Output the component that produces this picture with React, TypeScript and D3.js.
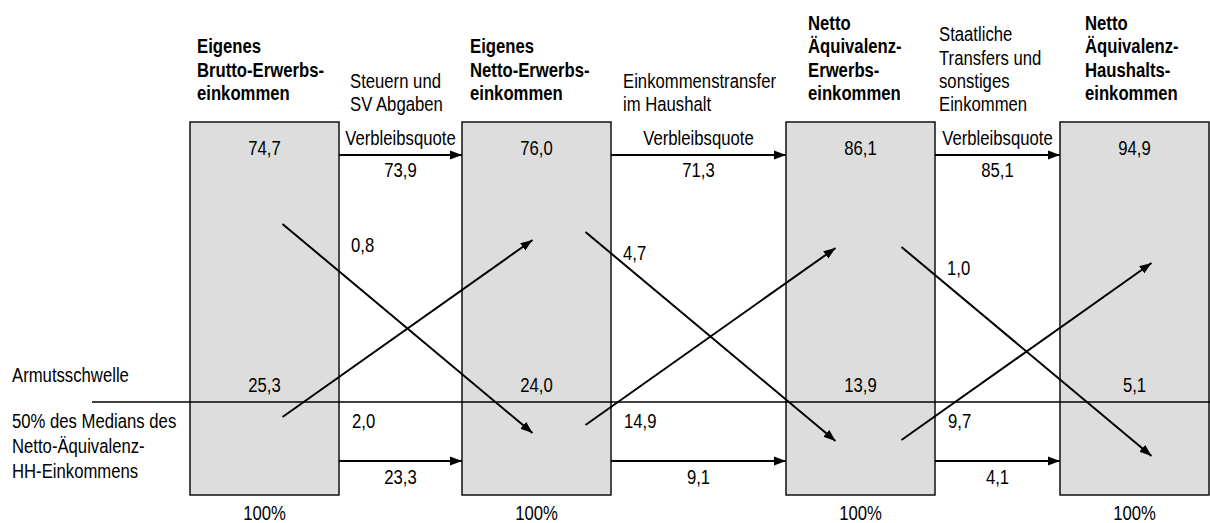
import React from 'react';
import * as d3 from 'd3';

// Stufen der Einkommensbetrachtung (Kopfzeilen der Kästen)
const stages = [
  ['Eigenes', 'Brutto-Erwerbs-', 'einkommen'],
  ['Eigenes', 'Netto-Erwerbs-', 'einkommen'],
  ['Netto', 'Äquivalenz-', 'Erwerbs-', 'einkommen'],
  ['Netto', 'Äquivalenz-', 'Haushalts-', 'einkommen'],
];
const transitions = [
  ['Steuern und', 'SV Abgaben'],
  ['Einkommenstransfer', 'im Haushalt'],
  ['Staatliche', 'Transfers und', 'sonstiges', 'Einkommen'],
];
const aboveShare = [74.7, 76.0, 86.1, 94.9];
const belowShare = [25.3, 24.0, 13.9, 5.1];
const stayAbove = [73.9, 71.3, 85.1];
const stayBelow = [23.3, 9.1, 4.1];
const fallBelow = [0.8, 4.7, 1.0];
const riseAbove = [2.0, 14.9, 9.7];
const totalLabel = '100%';
const stayLabel = 'Verbleibsquote';
const thresholdLabel = 'Armutsschwelle';
const thresholdNote = ['50% des Medians des', 'Netto-Äquivalenz-', 'HH-Einkommens'];

// Layout
const W = 1210;
const H = 523;
const BOX_W = 149;
const boxLeft = [190, 462, 786, 1060];
const headerX = [197, 470, 808, 1085];
const transX = [350, 623, 939];
const crossShift = [7, 12, 29];
const crossTop = [224, 232, 247];
const BOX_TOP = 122;
const BOX_BOTTOM = 495;
const THRESHOLD_Y = 402;
const TOP_ARROW_Y = 155;
const BOTTOM_ARROW_Y = 461;
const FONT = 'Arial, "Liberation Sans", Helvetica, sans-serif';
const FS = 16.7;
const STRETCH = 1.2;

const de = d3.formatLocale({ decimal: ',', thousands: '.', grouping: [3], currency: ['', ' €'] });
const fmt = de.format('.1f');

const xBox = d3.scaleOrdinal<number, number>().domain(d3.range(stages.length)).range(boxLeft);
const line = d3.line<[number, number]>();

const T: React.FC<{ x: number; y: number; bold?: boolean; anchor?: string; children: React.ReactNode }> = ({ x, y, bold, anchor, children }) => (
  <text
    transform={`translate(${x},${y}) scale(1,${STRETCH})`}
    fontFamily={FONT}
    fontSize={FS}
    fontWeight={bold ? 'bold' : 'normal'}
    textAnchor={anchor || 'start'}
    fill="#000"
  >
    {children}
  </text>
);

const App: React.FC = () => {
  const gaps = d3.range(transitions.length).map((i) => {
    const left = xBox(i) + BOX_W;
    const right = xBox(i + 1);
    return { left, right, mid: (left + right) / 2 };
  });

  return (
    <svg width={W} height={H} style={{ position: 'absolute', left: 0, top: 0, background: '#fff' }}>
      <defs>
        <marker id="head" markerUnits="userSpaceOnUse" markerWidth={13} markerHeight={10} refX={12} refY={5} orient="auto">
          <path d="M0,0.5 L12,5 L0,9.5 Z" fill="#000" />
        </marker>
      </defs>

      {/* Kästen */}
      {stages.map((_, i) => (
        <rect key={'b' + i} x={xBox(i)} y={BOX_TOP} width={BOX_W} height={BOX_BOTTOM - BOX_TOP}
          fill="#dddddd" stroke="#111" strokeWidth={1.5} />
      ))}

      {/* Armutsschwelle */}
      <path d={line([[92, THRESHOLD_Y], [W, THRESHOLD_Y]]) || ''} stroke="#000" strokeWidth={1.5} fill="none" />

      {/* Pfeile */}
      {gaps.map((g, i) => {
        const cx = g.mid + crossShift[i];
        const x0 = cx - 125;
        const x1 = cx + 125;
        const t = crossTop[i];
        return (
          <g key={'a' + i} stroke="#000" strokeWidth={2} fill="none">
            <path d={line([[g.left, TOP_ARROW_Y], [g.right, TOP_ARROW_Y]]) || ''} markerEnd="url(#head)" />
            <path d={line([[g.left, BOTTOM_ARROW_Y], [g.right, BOTTOM_ARROW_Y]]) || ''} markerEnd="url(#head)" />
            <path d={line([[x0, t], [x1, t + 209]]) || ''} markerEnd="url(#head)" />
            <path d={line([[x0, t + 193], [x1, t + 16]]) || ''} markerEnd="url(#head)" />
          </g>
        );
      })}

      {/* Kopfzeilen */}
      {stages.map((lines, i) => lines.map((s, j) => (
        <T key={`h${i}-${j}`} x={headerX[i]} y={100 - (lines.length - 1 - j) * 23.5} bold>{s}</T>
      )))}
      {transitions.map((lines, i) => lines.map((s, j) => (
        <T key={`t${i}-${j}`} x={transX[i]} y={111 - (lines.length - 1 - j) * 23.2}>{s}</T>
      )))}

      {/* Werte in den Kästen */}
      {stages.map((_, i) => {
        const cx = xBox(i) + BOX_W / 2;
        return (
          <g key={'v' + i}>
            <T x={cx} y={155} anchor="middle">{fmt(aboveShare[i])}</T>
            <T x={cx} y={392} anchor="middle">{fmt(belowShare[i])}</T>
            <T x={cx} y={520} anchor="middle">{totalLabel}</T>
          </g>
        );
      })}

      {/* Übergangswerte */}
      {gaps.map((g, i) => (
        <g key={'g' + i}>
          <T x={g.mid} y={145} anchor="middle">{stayLabel}</T>
          <T x={g.mid} y={177} anchor="middle">{fmt(stayAbove[i])}</T>
          <T x={g.mid} y={484} anchor="middle">{fmt(stayBelow[i])}</T>
          <T x={g.left + 12} y={crossTop[i] + 28}>{fmt(fallBelow[i])}</T>
          <T x={g.left + 13} y={THRESHOLD_Y + 26}>{fmt(riseAbove[i])}</T>
        </g>
      ))}

      {/* Legende links */}
      <T x={12} y={382}>{thresholdLabel}</T>
      {thresholdNote.map((s, j) => (
        <T key={'n' + j} x={12} y={428 + j * 25}>{s}</T>
      ))}
    </svg>
  );
};

export default App;
